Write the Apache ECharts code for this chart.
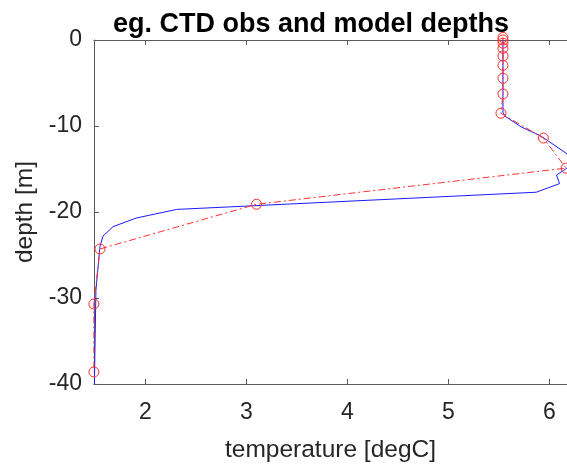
<!DOCTYPE html>
<html>
<head>
<meta charset="utf-8">
<script src="https://cdn.jsdelivr.net/npm/echarts@6/dist/echarts.min.js"></script>
<style>
html,body{margin:0;padding:0;background:#fff;}
#chart{width:567px;height:469px;}
</style>
</head>
<body>
<div id="chart"></div>
<script>
// Observations (red circles, dash-dot line)
const obsTemp  = [5.54, 5.54, 5.54, 5.54, 5.54, 5.54, 5.54, 5.54, 5.52, 5.94, 6.165, 3.10, 1.55, 1.49, 1.49];
const obsDepth = [0.3, 0.0, -0.38, -0.97, -1.86, -2.94, -4.45, -6.28, -8.52, -11.4, -14.9, -19.1, -24.3, -30.7, -38.6];
// Model (blue line)
const modTemp  = [5.54, 5.54, 5.56, 5.72, 5.92, 6.27, 6.16, 6.07, 6.10, 5.87, 2.31, 1.91, 1.68, 1.58, 1.55, 1.51, 1.495, 1.495];
const modDepth = [0.3, -8.4, -8.85, -10.1, -11.2, -14.0, -15.0, -15.7, -16.7, -17.7, -19.7, -20.7, -21.7, -22.8, -24.0, -29.1, -40, -42];
// Ticks
const xTicks = [2, 3, 4, 5, 6];
const yTicks = [0, -10, -20, -30, -40];

const FONT = 'Liberation Sans, Arial, Helvetica, sans-serif';
const TXT = '#262626';
const AX = '#5a5a5a';

const chart = echarts.init(document.getElementById('chart'), null, {renderer: 'canvas'});
const zip = (a, b) => a.map((v, i) => [v, b[i]]);

chart.setOption({
  animation: false,
  backgroundColor: '#fff',
  title: {
    text: 'eg. CTD obs and model depths',
    left: 306, top: 6, textAlign: 'center',
    textStyle: {fontFamily: FONT, fontSize: 27, fontWeight: 'bold', color: '#000'}
  },
  grid: {left: 94, top: 40, right: 0, bottom: 85, containLabel: false},
  xAxis: [{
    type: 'value', min: 1.491, max: 6.174, position: 'bottom',
    name: 'temperature [degC]', nameLocation: 'middle', nameGap: 54,
    nameTextStyle: {fontFamily: FONT, fontSize: 24.5, color: TXT},
    axisLine: {show: true, onZero: false, lineStyle: {color: AX, width: 1}},
    axisTick: {show: true, inside: true, length: 5, customValues: xTicks, lineStyle: {color: AX}},
    axisLabel: {show: true, customValues: xTicks, margin: 17, fontFamily: FONT, fontSize: 23, color: TXT},
    splitLine: {show: false}
  }, {
    type: 'value', min: 1.491, max: 6.174, position: 'top',
    axisLine: {show: true, onZero: false, lineStyle: {color: AX, width: 1}},
    axisTick: {show: true, inside: true, length: 5, customValues: xTicks, lineStyle: {color: AX}},
    axisLabel: {show: false},
    splitLine: {show: false}
  }],
  yAxis: [{
    type: 'value', min: -40, max: 0, interval: 10, position: 'left',
    name: 'depth [m]', nameLocation: 'middle', nameGap: 54, nameRotate: 90,
    nameTextStyle: {fontFamily: FONT, fontSize: 24.5, color: TXT},
    axisLine: {show: true, onZero: false, lineStyle: {color: AX, width: 1}},
    axisTick: {show: true, inside: true, length: 5, lineStyle: {color: AX}},
    axisLabel: {show: true, margin: 12, fontFamily: FONT, fontSize: 23, color: TXT},
    splitLine: {show: false}
  }],
  series: [{
    name: 'model', type: 'line', xAxisIndex: 0, yAxisIndex: 0,
    data: zip(modTemp, modDepth),
    showSymbol: false, symbol: 'none', clip: true,
    lineStyle: {color: '#1a1aff', width: 1}
  }, {
    name: 'obs', type: 'line', xAxisIndex: 0, yAxisIndex: 0,
    data: zip(obsTemp, obsDepth),
    symbol: 'circle', symbolSize: 10, showSymbol: true, clip: false,
    lineStyle: {color: '#ff3030', width: 1, type: [7, 3, 2, 3]},
    itemStyle: {color: 'rgba(0,0,0,0)', borderColor: '#ff3030', borderWidth: 1}
  }]
});
</script>
</body>
</html>
